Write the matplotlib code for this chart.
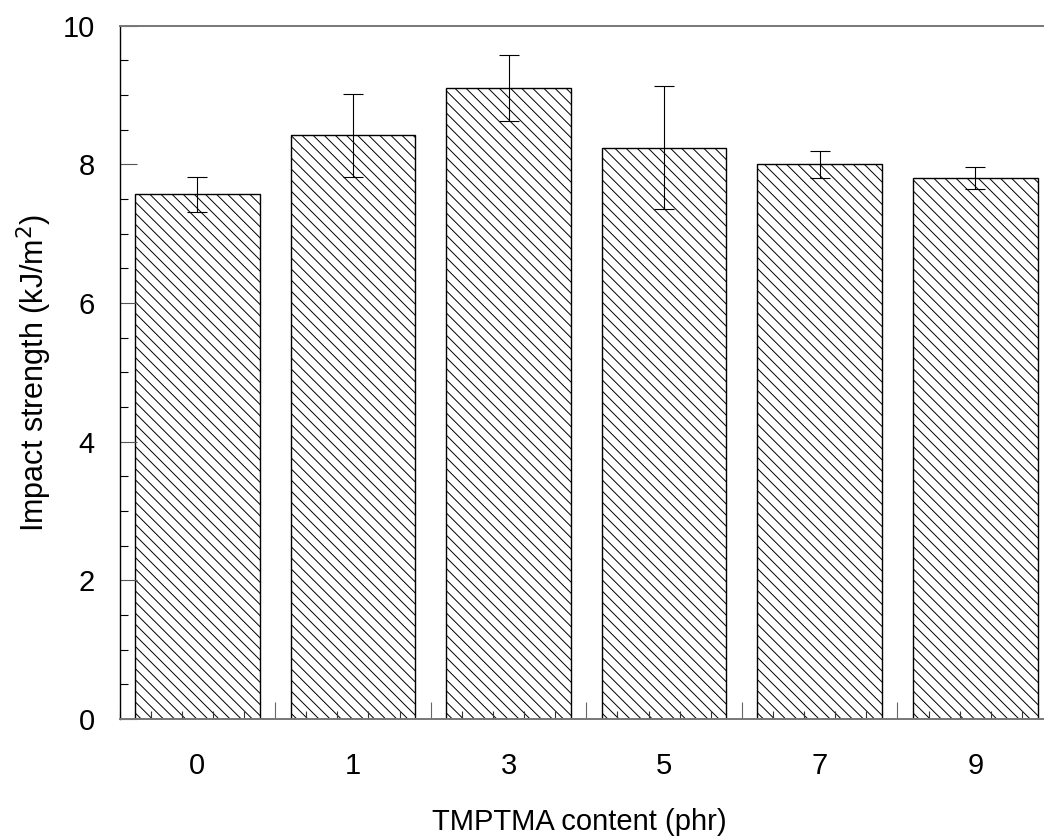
import matplotlib
matplotlib.use("Agg")
import matplotlib.pyplot as plt
from matplotlib.ticker import MultipleLocator, FixedLocator, NullFormatter
import numpy as np

plt.rcParams['font.family'] = ['Liberation Sans', 'DejaVu Sans']
plt.rcParams['hatch.linewidth'] = 0.7
plt.rcParams['hatch.color'] = '#4a4a4a'

# TMPTMA loading (phr) and notched impact strength
content = ['0', '1', '3', '5', '7', '9']
impact = [7.57, 8.42, 9.10, 8.24, 8.00, 7.80]
impact_sd = [0.25, 0.60, 0.48, 0.89, 0.19, 0.16]

x = np.arange(len(content))

fig = plt.figure(figsize=(10.44, 8.39), dpi=100)
# plot area runs a little past the right edge of the figure
ax = fig.add_axes([0.1145, 0.1430, 0.8942, 0.8263])

ax.bar(x, impact, width=0.8, color='white', edgecolor='black',
       linewidth=1.0, hatch='\\\\\\', zorder=1)
ax.errorbar(x, impact, yerr=impact_sd, fmt='none', ecolor='black',
            elinewidth=0.8, capsize=7.5, capthick=0.8, zorder=3)

ax.set_xlim(-0.5, len(content) - 0.5)
ax.set_ylim(0, 10)

# y axis: labelled every 2, minor every 0.5, ticks pointing in
ax.yaxis.set_major_locator(MultipleLocator(2))
ax.yaxis.set_minor_locator(MultipleLocator(0.5))
ax.tick_params(axis='y', which='major', direction='in', length=12,
               width=0.8, color='#555555', labelsize=21, pad=18)
ax.tick_params(axis='y', which='minor', direction='in', length=6,
               width=0.8, color='black')

# x axis: long ticks between categories, short ticks every 0.2
ax.xaxis.set_major_locator(FixedLocator(x[:-1] + 0.5))
ax.xaxis.set_major_formatter(NullFormatter())
ax.xaxis.set_minor_locator(MultipleLocator(0.2, offset=0.1))
ax.tick_params(axis='x', which='major', direction='in', length=12,
               width=0.8, color='#666666')
ax.tick_params(axis='x', which='minor', direction='in', length=6,
               width=0.8, color='#333333')

# category labels under bar centres
sec = ax.secondary_xaxis('bottom')
sec.set_xticks(x, content)
sec.tick_params(length=0, labelsize=21, pad=24)
sec.spines['bottom'].set_visible(False)
sec.set_xlabel('TMPTMA content (phr)', fontsize=21, labelpad=20)
sec.xaxis.label.set_x(0.493)

ax.set_ylabel('Impact strength (kJ/m$^2$)', fontsize=22, labelpad=6)

ax.spines['right'].set_visible(False)
ax.spines['left'].set_color('black')
ax.spines['left'].set_linewidth(1.0)
ax.spines['bottom'].set_color('#777777')
ax.spines['bottom'].set_linewidth(1.4)
ax.spines['top'].set_color('#777777')
ax.spines['top'].set_linewidth(1.4)

fig.savefig('out.png', dpi=100)
